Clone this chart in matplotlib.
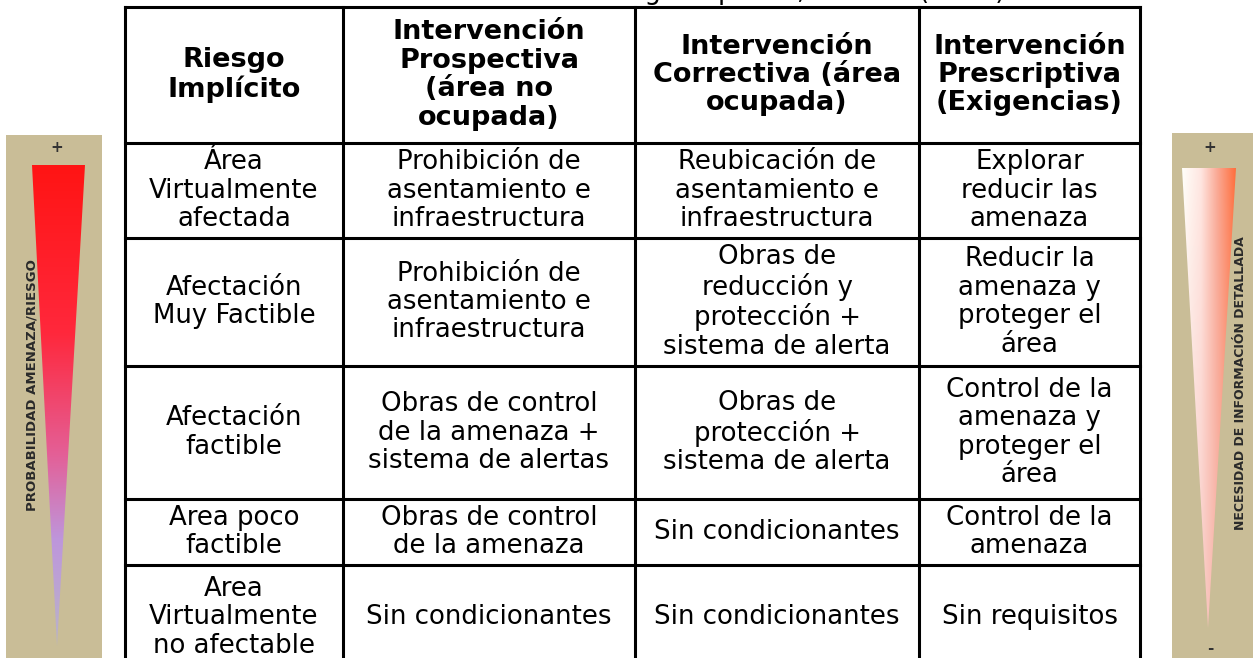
import numpy as np
import matplotlib.pyplot as plt
from matplotlib.patches import Polygon, Rectangle

# Table content
caption = "Intervención ante el riesgo implícito, Fuente: (2011)"
headers = [
    "Riesgo\nImplícito",
    "Intervención\nProspectiva\n(área no\nocupada)",
    "Intervención\nCorrectiva (área\nocupada)",
    "Intervención\nPrescriptiva\n(Exigencias)",
]
riesgo = [
    "Área\nVirtualmente\nafectada",
    "Afectación\nMuy Factible",
    "Afectación\nfactible",
    "Area poco\nfactible",
    "Area\nVirtualmente\nno afectable",
]
prospectiva = [
    "Prohibición de\nasentamiento e\ninfraestructura",
    "Prohibición de\nasentamiento e\ninfraestructura",
    "Obras de control\nde la amenaza +\nsistema de alertas",
    "Obras de control\nde la amenaza",
    "Sin condicionantes",
]
correctiva = [
    "Reubicación de\nasentamiento e\ninfraestructura",
    "Obras de\nreducción y\nprotección +\nsistema de alerta",
    "Obras de\nprotección +\nsistema de alerta",
    "Sin condicionantes",
    "Sin condicionantes",
]
prescriptiva = [
    "Explorar\nreducir las\namenaza",
    "Reducir la\namenaza y\nproteger el\nárea",
    "Control de la\namenaza y\nproteger el\nárea",
    "Control de la\namenaza",
    "Sin requisitos",
]
left_label = "PROBABILIDAD AMENAZA/RIESGO"
right_label = "NECESIDAD DE INFORMACIÓN DETALLADA"

# layout in pixel coordinates
W, H = 1253, 658
col_edges = [125, 343, 635, 919, 1140]
row_edges = [7, 143, 238, 366, 499, 565, 670]

fig = plt.figure(figsize=(W / 100, H / 100), dpi=100)
ax = fig.add_axes([0, 0, 1, 1])
ax.set_xlim(0, W)
ax.set_ylim(H, 0)
ax.axis("off")

# caption, cut off by the top edge in the source
ax.text(1005, -1, caption, ha="right", va="baseline", fontsize=18.7,
        clip_on=False)

# grid lines
lw = 2.2
for y in row_edges[:-1]:
    ax.plot([col_edges[0], col_edges[-1]], [y, y], color="black", lw=lw,
            solid_capstyle="projecting")
for x in col_edges:
    ax.plot([x, x], [row_edges[0], H + 5], color="black", lw=lw,
            solid_capstyle="projecting")

# header
for j, h in enumerate(headers):
    cx = (col_edges[j] + col_edges[j + 1]) / 2
    cy = (row_edges[0] + row_edges[1]) / 2
    ax.text(cx, cy, h, ha="center", va="center", multialignment="center",
            fontsize=19.5, fontweight="bold", linespacing=1.12)

# body cells
columns = [riesgo, prospectiva, correctiva, prescriptiva]
for j, col in enumerate(columns):
    cx = (col_edges[j] + col_edges[j + 1]) / 2
    for i, s in enumerate(col):
        cy = (row_edges[i + 1] + row_edges[i + 2]) / 2
        ax.text(cx, cy, s, ha="center", va="center", multialignment="center",
                fontsize=18.7, linespacing=1.12)

tan = "#c9bd97"

# left gradient wedge
ax.add_patch(Rectangle((6, 135), 96, H - 135, facecolor=tan, edgecolor="none"))
tri_l = Polygon([(32, 165), (85, 165), (57, 646)], closed=True,
                facecolor="none", edgecolor="none")
ax.add_patch(tri_l)
stops = [0.0, 0.35, 0.6, 0.78, 1.0]
cols = np.array([[255, 20, 20], [255, 40, 60], [228, 95, 150],
                 [190, 150, 220], [185, 180, 200]]) / 255
t = np.linspace(0, 1, 256)
grad = np.stack([np.interp(t, stops, cols[:, k]) for k in range(3)], axis=1)
img = ax.imshow(grad[:, None, :], extent=(32, 85, 646, 165), aspect="auto",
                interpolation="bilinear", zorder=2)
img.set_clip_path(tri_l)
ax.text(57, 147, "+", ha="center", va="center", fontsize=11,
        fontweight="bold", color="#333333")
ax.text(32, 385, left_label, rotation=90, ha="center", va="center",
        fontsize=9.5, fontweight="bold", color="#2a2a2a", zorder=3)

# right gradient wedge
ax.add_patch(Rectangle((1172, 133), W - 1172, H - 133, facecolor=tan,
                       edgecolor="none"))
tri_r = Polygon([(1182, 168), (1236, 168), (1208, 628)], closed=True,
                facecolor="none", edgecolor="none")
ax.add_patch(tri_r)
hx = np.linspace(0, 1, 128)
hstops = [0.0, 0.35, 0.65, 1.0]
hcols = np.array([[255, 255, 250], [255, 230, 225], [250, 170, 150],
                  [255, 110, 60]]) / 255
hgrad = np.stack([np.interp(hx, hstops, hcols[:, k]) for k in range(3)], axis=1)
vy = np.linspace(0, 1, 128)[:, None, None]
pink = np.array([245, 190, 185]) / 255
rimg = hgrad[None, :, :] * (1 - 0.6 * vy) + pink * 0.6 * vy
img2 = ax.imshow(rimg, extent=(1182, 1236, 628, 168), aspect="auto",
                 interpolation="bilinear", zorder=2)
img2.set_clip_path(tri_r)
ax.text(1210, 147, "+", ha="center", va="center", fontsize=11,
        fontweight="bold", color="#333333")
ax.text(1210, 648, "-", ha="center", va="center", fontsize=11,
        fontweight="bold", color="#333333")
ax.text(1241, 383, right_label, rotation=90, ha="center", va="center",
        fontsize=9, fontweight="bold", color="#2a2a2a", zorder=3)

fig.savefig("out.png", dpi=100)
